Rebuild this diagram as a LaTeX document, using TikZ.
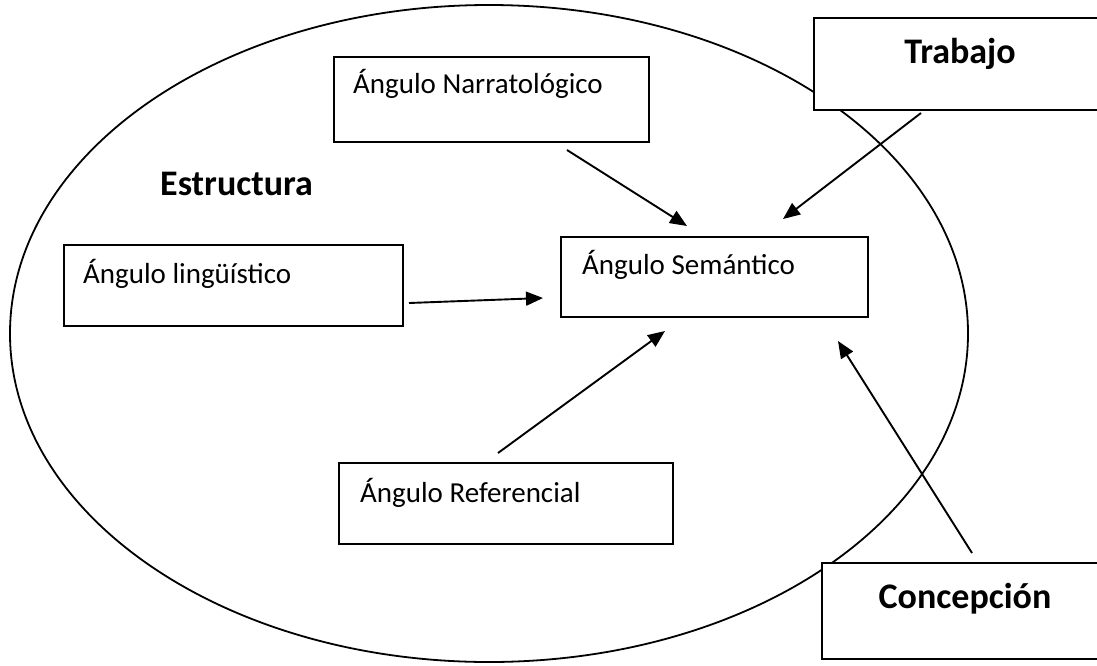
\documentclass[tikz,border=0pt]{standalone}
\usepackage{fontspec}
\setmainfont{Carlito}
\usetikzlibrary{arrows.meta}

\begin{document}
\begin{tikzpicture}[x=1pt, y=-1pt,
    caja/.style={draw, line width=1.9pt, fill=white, anchor=north west, inner sep=0pt, outer sep=0pt},
    txt/.style={anchor=base west, inner sep=0pt, font=\fontsize{29}{34}\selectfont},
    titulo/.style={anchor=base, inner sep=0pt, font=\fontsize{36}{42}\selectfont\bfseries},
    flecha/.style={line width=1.9pt, -{Triangle[length=17pt,width=14pt]}}]
  \useasboundingbox (0,0) rectangle (1097,665);
  \draw[line width=1.8pt] (489,333.5) ellipse [x radius=479, y radius=328.5];
  \node[titulo, anchor=base west] (estructura) at (160,195) {Estructura};
  \node[caja, minimum width=315pt, minimum height=85pt] (narr) at (334,57) {};
  \node[txt] (narrtxt) at ([shift={(19,36)}]narr.north west) {Ángulo Narratológico};
  \node[caja, minimum width=307pt, minimum height=80pt] (sem) at (561,237) {};
  \node[txt] (semtxt) at ([shift={(21,37)}]sem.north west) {Ángulo Semántico};
  \node[caja, minimum width=339pt, minimum height=81pt] (ling) at (64,245) {};
  \node[txt] (lingtxt) at ([shift={(19,38)}]ling.north west) {Ángulo lingüístico};
  \node[caja, minimum width=334pt, minimum height=81pt] (ref) at (339,463) {};
  \node[txt] (reftxt) at ([shift={(21,39)}]ref.north west) {Ángulo Referencial};
  \node[caja, minimum width=290pt, minimum height=92pt] (trab) at (814,18) {};
  \node[titulo] (trabtxt) at (960,63) {Trabajo};
  \node[caja, minimum width=285pt, minimum height=96pt] (conc) at (822,563) {};
  \node[titulo] (conctxt) at (965,608) {Concepción};
  \draw[flecha] ([shift={(233,8)}]narr.south west) -- ([shift={(126,-11)}]sem.north west);
  \draw[flecha] ([shift={(107,3)}]trab.south west) -- ([shift={(222,-18)}]sem.north west);
  \draw[flecha] ([shift={(6,58)}]ling.north east) -- ([shift={(-18,61)}]sem.north west);
  \draw[flecha] ([shift={(159,-10)}]ref.north west) -- ([shift={(104,14)}]sem.south west);
  \draw[flecha] ([shift={(150,-10)}]conc.north west) -- ([shift={(277,24)}]sem.south west);
\end{tikzpicture}
\end{document}
